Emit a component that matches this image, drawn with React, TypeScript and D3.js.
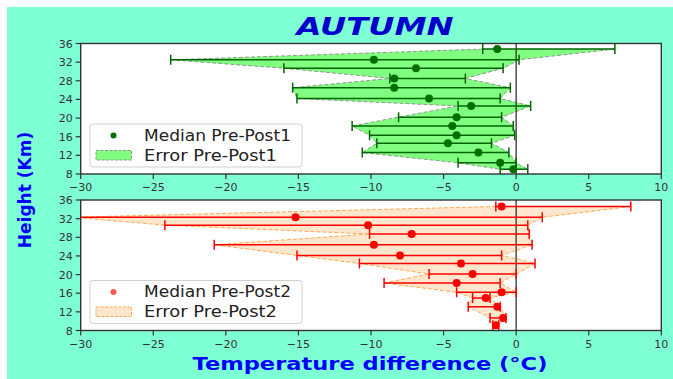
import React from "react";
import * as d3 from "d3";

const xTicks = [-30, -25, -20, -15, -10, -5, 0, 5, 10];
const yTicks = [8, 12, 16, 20, 24, 28, 32, 36];

const heights1 = [34.8, 32.5, 30.7, 28.5, 26.5, 24.2, 22.6, 20.2, 18.3, 16.3, 14.6, 12.6, 10.4, 9.0];
const median1 = [-1.3, -9.8, -6.9, -8.4, -8.4, -6.0, -3.1, -4.1, -4.4, -4.1, -4.7, -2.6, -1.1, -0.2];
const lower1 = [-2.3, -23.8, -16.0, -8.7, -15.4, -15.1, -4.0, -8.1, -11.3, -10.1, -9.6, -10.6, -4.0, -1.1];
const upper1 = [6.8, 0.2, -0.9, -3.5, -0.4, -1.1, 1.0, -1.0, -0.2, -0.1, -1.7, -0.5, 0.0, 0.8];

const heights2 = [34.6, 32.3, 30.6, 28.7, 26.4, 24.1, 22.4, 20.1, 18.2, 16.2, 15.0, 13.1, 10.7, 9.1];
const median2 = [-1.0, -15.2, -10.2, -7.2, -9.8, -8.0, -3.8, -3.0, -4.1, -1.0, -2.1, -1.3, -0.9, -1.4];
const lower2 = [-1.4, -30.5, -24.2, -10.1, -20.8, -15.1, -10.8, -6.0, -9.1, -4.1, -3.0, -3.3, -1.8, -1.6];
const upper2 = [7.9, 1.8, 0.8, 0.9, 1.1, -1.0, 1.3, 0.0, -1.1, 0.0, -1.8, -1.1, -0.7, -1.2];

const labels1 = ["Median Pre-Post1", "Error Pre-Post1"];
const labels2 = ["Median Pre-Post2", "Error Pre-Post2"];

const W = 673;
const H = 379;
const X0 = 80.7;
const X1 = 661.3;
const FONT = "DejaVu Sans, sans-serif";

type PanelProps = {
  id: string;
  top: number;
  bottom: number;
  heights: number[];
  median: number[];
  lower: number[];
  upper: number[];
  labels: string[];
  fill: string;
  edge: string;
  barColor: string;
  dotColor: string;
  legendMarker: string;
  legendTop: number;
};

function Panel(p: PanelProps) {
  const x = d3.scaleLinear().domain([-30, 10]).range([X0, X1]);
  const y = d3.scaleLinear().domain([8, 36]).range([p.bottom, p.top]);
  const idx = p.heights.map((_, i) => i);
  const area = d3
    .area<number>()
    .y((i) => y(p.heights[i]))
    .x0((i) => x(p.lower[i]))
    .x1((i) => x(p.upper[i]));
  const edgeTop = d3
    .line<number>()
    .y((i) => y(p.heights[i]))
    .x((i) => x(p.lower[i]));
  const edgeBot = d3
    .line<number>()
    .y((i) => y(p.heights[i]))
    .x((i) => x(p.upper[i]));
  const cap = 5;
  const lt = p.legendTop;
  return (
    <g>
      <defs>
        <clipPath id={p.id}>
          <rect x={X0} y={p.top} width={X1 - X0} height={p.bottom - p.top} />
        </clipPath>
      </defs>
      <rect x={X0} y={p.top} width={X1 - X0} height={p.bottom - p.top} fill="#ffffff" />
      <g clipPath={`url(#${p.id})`}>
        <path d={area(idx) || ""} fill={p.fill} stroke="none" />
        <path d={edgeTop(idx) || ""} fill="none" stroke={p.edge} strokeWidth={1} strokeDasharray="4,2" />
        <path d={edgeBot(idx) || ""} fill="none" stroke={p.edge} strokeWidth={1} strokeDasharray="4,2" />
        <line x1={x(0)} x2={x(0)} y1={p.top} y2={p.bottom} stroke="#333" strokeWidth={1.3} />
        {idx.map((i) => (
          <g key={i} stroke={p.barColor} strokeWidth={1.5}>
            <line x1={x(p.lower[i])} x2={x(p.upper[i])} y1={y(p.heights[i])} y2={y(p.heights[i])} />
            <line x1={x(p.lower[i])} x2={x(p.lower[i])} y1={y(p.heights[i]) - cap} y2={y(p.heights[i]) + cap} />
            <line x1={x(p.upper[i])} x2={x(p.upper[i])} y1={y(p.heights[i]) - cap} y2={y(p.heights[i]) + cap} />
          </g>
        ))}
        {idx.map((i) => (
          <circle key={"d" + i} cx={x(p.median[i])} cy={y(p.heights[i])} r={4} fill={p.dotColor} />
        ))}
      </g>
      <rect x={X0} y={p.top} width={X1 - X0} height={p.bottom - p.top} fill="none" stroke="#333" strokeWidth={1.4} />
      {xTicks.map((t) => (
        <g key={"x" + t}>
          <line x1={x(t)} x2={x(t)} y1={p.bottom} y2={p.bottom + 5} stroke="#333" strokeWidth={1.2} />
          <text x={x(t)} y={p.bottom + 17} textAnchor="middle" fontFamily={FONT} fontSize={11} fill="#333">
            {t < 0 ? "\u2212" + Math.abs(t) : String(t)}
          </text>
        </g>
      ))}
      {yTicks.map((t) => (
        <g key={"y" + t}>
          <line x1={X0 - 5} x2={X0} y1={y(t)} y2={y(t)} stroke="#333" strokeWidth={1.2} />
          <text x={X0 - 8} y={y(t) + 4} textAnchor="end" fontFamily={FONT} fontSize={11} fill="#333">
            {t}
          </text>
        </g>
      ))}
      <rect x={90} y={lt} width={212} height={43} rx={3} fill="#ffffff" fillOpacity={0.85} stroke="#d0d0d0" strokeWidth={1} />
      <circle cx={113.5} cy={lt + 11.5} r={3} fill={p.legendMarker} />
      <text x={144} y={lt + 16.5} fontFamily={FONT} fontSize={15} fill="#222" textLength={147} lengthAdjust="spacingAndGlyphs">
        {p.labels[0]}
      </text>
      <rect x={96} y={lt + 26.5} width={35.5} height={9.5} fill={p.fill} stroke={p.edge} strokeWidth={1} strokeDasharray="3,1.5" />
      <text x={144} y={lt + 36.5} fontFamily={FONT} fontSize={15} fill="#222" textLength={133} lengthAdjust="spacingAndGlyphs">
        {p.labels[1]}
      </text>
    </g>
  );
}

export default function App() {
  return (
    <svg width={W} height={H} style={{ position: "absolute", left: 0, top: 0 }}>
      <rect x={0} y={0} width={W} height={H} fill="#ffffff" />
      <rect x={7} y={7} width={W - 7} height={H - 7} fill="#7fffd4" />
      <text x={375} y={35} textAnchor="middle" fontFamily={FONT} fontSize={25} fontWeight="bold" fontStyle="italic" fill="#0000cd" textLength={157} lengthAdjust="spacingAndGlyphs">
        AUTUMN
      </text>
      <Panel
        id="c1"
        top={43.5}
        bottom={174}
        heights={heights1}
        median={median1}
        lower={lower1}
        upper={upper1}
        labels={labels1}
        fill="#80ff80"
        edge="#8a9a8a"
        barColor="#006400"
        dotColor="#006f00"
        legendMarker="#006f00"
        legendTop={124}
      />
      <Panel
        id="c2"
        top={200}
        bottom={330.5}
        heights={heights2}
        median={median2}
        lower={lower2}
        upper={upper2}
        labels={labels2}
        fill="#ffe6cc"
        edge="#ffaa55"
        barColor="#ff0000"
        dotColor="#ff0000"
        legendMarker="#ff5a4a"
        legendTop={280.5}
      />
      <text transform="translate(31,190) rotate(-90)" textAnchor="middle" fontFamily={FONT} fontSize={17} fontWeight="bold" fill="#0000ff">
        Height (Km)
      </text>
      <text x={370} y={370} textAnchor="middle" fontFamily={FONT} fontSize={17} fontWeight="bold" fill="#0000ff" textLength={355} lengthAdjust="spacingAndGlyphs">
        Temperature difference (°C)
      </text>
    </svg>
  );
}
